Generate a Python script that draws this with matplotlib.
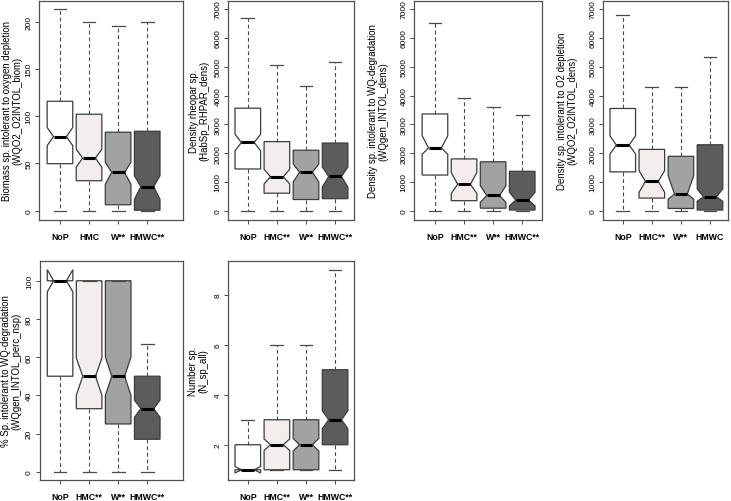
#!/usr/bin/env python3
"""Notched boxplots of macroinvertebrate metrics by pressure group."""

import matplotlib.pyplot as plt

plt.rcParams['font.family'] = ['Liberation Sans', 'DejaVu Sans']

W_PX, H_PX = 731, 502

# fill colours per group (NoP, HMC, W, HMWC)
FILLS = ['#ffffff', '#f3eeee', '#a2a2a2', '#5c5c5c']
EDGE = '#3c3c3c'
GREY = '#4a4a4a'

# each panel: box stats per group as [whislo, q1, med, q3, whishi], notch as [cilo, cihi]
biom_labels = ['NoP', 'HMC', 'W**', 'HMWC**']
biom_box = [[0, 49.7, 78.3, 115.7, 213], [0, 31.7, 55.7, 102, 200],
            [0, 6.3, 40.6, 83, 195], [0, 0.5, 25.4, 84, 200]]
biom_notch = [[68.8, 88], [46, 65], [28, 51], [12, 37]]

rhpar_labels = ['NoP', 'HMC**', 'W**', 'HMWC**']
rhpar_box = [[0, 1450, 2370, 3560, 6700], [0, 610, 1180, 2400, 5050],
             [0, 390, 1340, 2100, 4320], [0, 420, 1190, 2350, 5180]]
rhpar_notch = [[2080, 2660], [930, 1440], [1000, 1620], [820, 1520]]

wqgen_labels = ['NoP', 'HMC**', 'W**', 'HMWC**']
wqgen_box = [[0, 1240, 2180, 3360, 6500], [0, 350, 920, 1800, 3910],
             [0, 90, 530, 1700, 3610], [0, 25, 370, 1370, 3320]]
wqgen_notch = [[1960, 2600], [600, 1330], [290, 870], [170, 640]]

o2_labels = ['NoP', 'HMC**', 'W**', 'HMWC']
o2_box = [[0, 1350, 2280, 3550, 6800], [0, 440, 1020, 2130, 4310],
          [0, 80, 580, 1890, 4310], [0, 25, 480, 2290, 5350]]
o2_notch = [[1970, 2600], [640, 1390], [400, 1220], [330, 760]]

perc_labels = ['NoP', 'HMC**', 'W**', 'HMWC**']
perc_box = [[0, 50, 100, 100, 100], [0, 33, 50, 100, 100],
            [0, 25, 50, 100, 100], [0, 17, 33, 50, 67]]
perc_notch = [[94.2, 105.8], [40, 59.5], [40, 60], [28.5, 37.5]]

nsp_labels = ['NoP', 'HMC**', 'W**', 'HMWC**']
nsp_box = [[1, 1, 1, 2, 3], [1, 1, 2, 3, 6], [1, 1, 2, 3, 6], [1, 2, 3, 5, 9]]
nsp_notch = [[0.87, 1.13], [1.77, 2.23], [1.75, 2.25], [2.64, 3.36]]

ylabels = [
	'Biomass sp. intolerant to oxygen depletion\n(WQO2_O2INTOL_biom)',
	'Density rheopar sp.\n(HabSp_RHPAR_dens)',
	'Density sp. intolerant to WQ-degradation\n(WQgen_INTOL_dens)',
	'Density sp. intolerant to O2 depletion\n(WQO2_O2INTOL_dens)',
	'% Sp. intolerant to WQ-degradation\n(WQgen_INTOL_perc_nsp)',
	'Number sp.\n(N_sp_all)',
]

dens_ticks = [0, 1000, 2000, 3000, 4000, 5000, 6000, 7000]
panels = [
	# data, layout: frame px (left, top, right, bottom), xlim, ylim, yticks, ylabel x px
	(biom_labels, biom_box, biom_notch, (39.3, 1.7, 182.7, 220.7), (0.29, 5.22), (-9.5, 222), [0, 50, 100, 150, 200], 12.5),
	(rhpar_labels, rhpar_box, rhpar_notch, (228.3, 1.7, 354.3, 220.7), (0.33, 4.66), (-310, 7290), dens_ticks, 199.5),
	(wqgen_labels, wqgen_box, wqgen_notch, (414.3, 1.7, 541.7, 220.7), (0.29, 4.67), (-310, 7290), dens_ticks, 378.5),
	(o2_labels, o2_box, o2_notch, (603.3, 1.7, 728.3, 220.7), (0.33, 4.63), (-310, 7290), dens_ticks, 567.5),
	(perc_labels, perc_box, perc_notch, (40.0, 261.7, 182.7, 481.0), (0.31, 5.22), (-4.35, 110.5), [0, 20, 40, 60, 80, 100], 11.0),
	(nsp_labels, nsp_box, nsp_notch, (228.3, 261.7, 354.3, 481.0), (0.33, 4.66), (0.59, 9.36), [2, 4, 6, 8], 198.0),
]

fig = plt.figure(figsize=(W_PX / 100, H_PX / 100), dpi=100)

for labels, box, notch, frame, xlim, ylim, yticks, ylab_x, ylab in [p + (l,) for p, l in zip(panels, ylabels)]:
	left, top, right, bottom = frame
	ax = fig.add_axes([left / W_PX, 1 - bottom / H_PX, (right - left) / W_PX, (bottom - top) / H_PX])

	stats = []
	for (lo, q1, med, q3, hi), (cilo, cihi) in zip(box, notch):
		stats.append(dict(whislo=lo, q1=q1, med=med, q3=q3, whishi=hi,
			cilo=cilo, cihi=cihi, fliers=[]))

	res = ax.bxp(stats, positions=[1, 2, 3, 4], widths=0.88, shownotches=True,
		patch_artist=True, showfliers=False,
		boxprops=dict(edgecolor=EDGE, linewidth=0.9),
		whiskerprops=dict(color=GREY, linewidth=0.8, linestyle=(0, (3.5, 2.5))),
		capprops=dict(color=GREY, linewidth=0.9),
		medianprops=dict(color='black', linewidth=2.2, solid_capstyle='butt'))
	for patch, col in zip(res['boxes'], FILLS):
		patch.set_facecolor(col)

	ax.set_xlim(*xlim)
	ax.set_ylim(*ylim)
	ax.set_yticks(yticks)
	ax.set_yticklabels([str(t) for t in yticks], rotation=90, va='center', fontsize=6.0)
	ax.set_xticks([1, 2, 3, 4])
	ax.set_xticklabels(labels, fontsize=6.3, fontweight='bold')
	ax.tick_params(axis='both', length=3, width=0.7, color=GREY, direction='out')
	ax.tick_params(axis='x', pad=5.5)
	ax.tick_params(axis='y', pad=2)
	for s in ax.spines.values():
		s.set_color('#505050')
		s.set_linewidth(0.9)

	fig.text(ylab_x / W_PX, 1 - (top + bottom) / 2 / H_PX, ylab, rotation=90,
		ha='center', va='center', fontsize=6.9, linespacing=1.05)

plt.savefig('out.png', dpi=100)
plt.close()
